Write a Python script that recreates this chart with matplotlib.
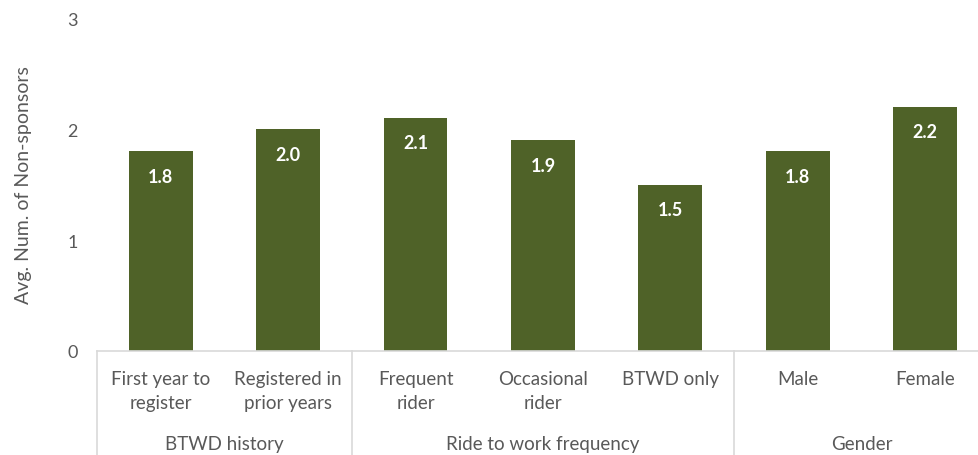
import numpy as np
import matplotlib.pyplot as plt

# data
categories = ["First year to\nregister", "Registered in\nprior years",
              "Frequent\nrider", "Occasional\nrider", "BTWD only",
              "Male", "Female"]
values = [1.8, 2.0, 2.1, 1.9, 1.5, 1.8, 2.2]
groups = ["BTWD history", "Ride to work frequency", "Gender"]
group_sizes = [2, 3, 2]

plt.rcParams['font.family'] = ['Lato', 'DejaVu Sans']
grey = "#595959"
line_grey = "#d9d9d9"

fig = plt.figure(figsize=(9.79, 4.56), dpi=100)
ax = fig.add_axes([97 / 979, 104 / 456, 7 * 127.4 / 979, 333 / 456])

x = np.arange(len(values))
ax.bar(x, values, width=0.5, color="#4F6228")
ax.set_xlim(-0.5, len(values) - 0.5)
ax.set_ylim(0, 3)
ax.set_yticks([0, 1, 2, 3])
ax.tick_params(axis='y', length=0, pad=14, labelsize=13, labelcolor=grey)
ax.set_xticks([])
ax.set_ylabel("Avg. Num. of Non-sponsors", fontsize=14, color=grey, labelpad=25)

for s in ["top", "right", "left"]:
    ax.spines[s].set_visible(False)
ax.spines["bottom"].set_color(line_grey)
ax.spines["bottom"].set_linewidth(1.2)

# value labels inside bars
for xi, v in zip(x, values):
    ax.annotate(f"{v:.1f}", (xi, v), xytext=(0, -25), textcoords="offset pixels",
                ha="center", va="center", color="white", fontsize=13,
                fontweight="bold")

# category labels
for xi, c in zip(x, categories):
    ax.annotate(c, (xi, 0), xycoords=("data", "axes fraction"),
                xytext=(0, -19), textcoords="offset pixels",
                ha="center", va="top", color=grey, fontsize=13.5,
                linespacing=1.5, annotation_clip=False)

# group labels and separators
start = -0.5
seps = [start]
for g, n in zip(groups, group_sizes):
    mid = start + n / 2
    ax.annotate(g, (mid, 0), xycoords=("data", "axes fraction"),
                xytext=(0, -93), textcoords="offset pixels",
                ha="center", va="center", color=grey, fontsize=13.5,
                annotation_clip=False)
    start += n
    seps.append(start)

for s in seps:
    ax.plot([s, s], [0, -0.4], transform=ax.get_xaxis_transform(),
            color=line_grey, lw=1.2, clip_on=False)

fig.savefig("out.png", dpi=100)
